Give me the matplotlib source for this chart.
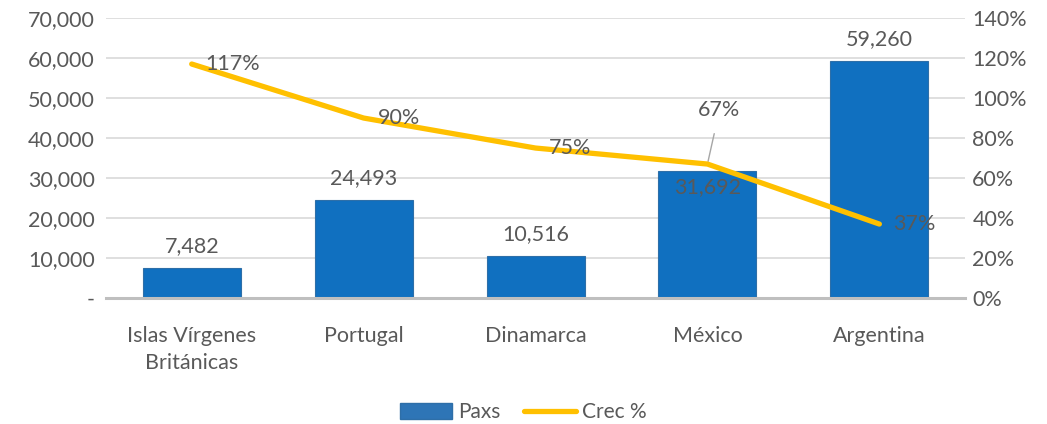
import matplotlib.pyplot as plt
from matplotlib.ticker import FuncFormatter, PercentFormatter
from matplotlib.lines import Line2D
from matplotlib.patches import Patch

plt.rcParams['font.family'] = ['Lato', 'DejaVu Sans']

# data
paises = ["Islas Vírgenes\nBritánicas", "Portugal", "Dinamarca", "México", "Argentina"]
paxs = [7482, 24493, 10516, 31692, 59260]
crec = [1.17, 0.90, 0.75, 0.67, 0.37]

txt = "#595959"
fig = plt.figure(figsize=(10.47, 4.24), dpi=100)
ax = fig.add_axes([0.101, 0.297, 0.821, 0.6605])
ax2 = ax.twinx()

x = range(len(paises))
ax.bar(x, paxs, width=0.57, color="#1070C0", edgecolor="#2E6FA8", linewidth=0.8, zorder=2)
ax.set_ylim(0, 70000)
ax.set_xlim(-0.5, len(paises) - 0.5)
ax.set_yticks(range(0, 70001, 10000))
ax.yaxis.set_major_formatter(FuncFormatter(lambda v, p: "-" if v == 0 else f"{int(v):,}"))
ax.grid(axis="y", color="#D9D9D9", linewidth=1.2, zorder=0)
ax.set_axisbelow(True)
ax.set_xticks(list(x))
ax.set_xticklabels(paises, fontsize=15.5, color=txt, linespacing=1.45)

for s in ["top", "right", "left"]:
    ax.spines[s].set_visible(False)
    ax2.spines[s].set_visible(False)
ax2.spines["bottom"].set_visible(False)
ax.spines["bottom"].set_color("#BFBFBF")
ax.spines["bottom"].set_linewidth(2.2)
ax.tick_params(axis="y", length=0, labelsize=15.5, labelcolor=txt, pad=8)
ax.tick_params(axis="x", length=0, pad=20)

for i, v in enumerate(paxs):
    if i == 3:
        ax.text(i, v - 1500, f"{v:,}", ha="center", va="top", fontsize=15.5, color=txt, zorder=3)
    else:
        ax.text(i, v + 3000, f"{v:,}", ha="center", va="bottom", fontsize=15.5, color=txt, zorder=3)

ax2.plot(x, crec, color="#FFC000", linewidth=3.8, solid_capstyle="round", zorder=4)
ax2.set_ylim(0, 1.4)
ax2.set_yticks([i / 10 for i in range(0, 15, 2)])
ax2.yaxis.set_major_formatter(PercentFormatter(1.0, decimals=0))
ax2.tick_params(axis="y", length=0, labelsize=15.5, labelcolor=txt, pad=5)

for i, v in enumerate(crec):
    lab = f"{round(v * 100):d}%"
    if i == 3:
        ax2.annotate(lab, xy=(i, v), xytext=(i + 0.07, v + 0.27), ha="center", va="center",
                     fontsize=15.5, color=txt,
                     arrowprops=dict(arrowstyle="-", color="#A6A6A6", lw=1, shrinkA=8, shrinkB=2))
    else:
        ax2.text(i + 0.08, v, lab, ha="left", va="center", fontsize=15.5, color=txt, zorder=5)

handles = [Patch(facecolor="#2E75B6", edgecolor="#2E6FA8"),
           Line2D([0], [0], color="#FFC000", linewidth=3.8, solid_capstyle="round")]
fig.legend(handles, ["Paxs", "Crec %"], loc="lower center", bbox_to_anchor=(0.5, -0.04),
           ncol=2, frameon=False, fontsize=15, labelcolor=txt, handlelength=2.5,
           handleheight=0.8, handletextpad=0.3, columnspacing=1.1)

fig.savefig("out.png", dpi=100)
